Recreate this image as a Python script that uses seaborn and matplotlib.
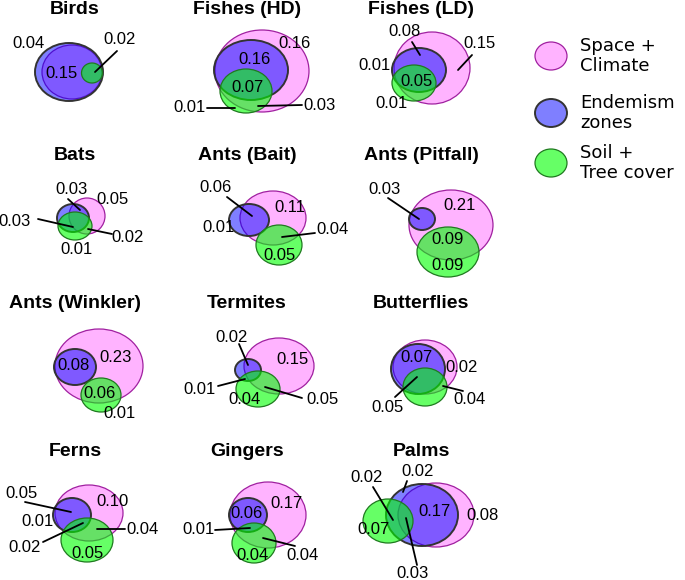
import matplotlib
matplotlib.use("Agg")
import matplotlib.pyplot as plt
from matplotlib.patches import Ellipse
import seaborn as sns

sns.set_theme(style="white")

# panel titles (row by row)
titles = ["Birds", "Fishes (HD)", "Fishes (LD)",
          "Bats", "Ants (Bait)", "Ants (Pitfall)",
          "Ants (Winkler)", "Termites", "Butterflies",
          "Ferns", "Gingers", "Palms"]

# variance fractions printed in each panel
birds = [0.04, 0.15, 0.02]
fishes_hd = [0.16, 0.16, 0.07, 0.01, 0.03]
fishes_ld = [0.08, 0.15, 0.01, 0.05, 0.01]
bats = [0.03, 0.05, 0.03, 0.02, 0.01]
ants_bait = [0.06, 0.11, 0.01, 0.04, 0.05]
ants_pitfall = [0.03, 0.21, 0.09, 0.09]
ants_winkler = [0.08, 0.23, 0.06, 0.01]
termites = [0.02, 0.15, 0.01, 0.04, 0.05]
butterflies = [0.07, 0.02, 0.05, 0.04]
ferns = [0.05, 0.10, 0.01, 0.04, 0.02, 0.05]
gingers = [0.06, 0.17, 0.01, 0.04, 0.04]
palms = [0.02, 0.02, 0.17, 0.08, 0.07, 0.03]
fractions = [birds, fishes_hd, fishes_ld, bats, ants_bait, ants_pitfall,
             ants_winkler, termites, butterflies, ferns, gingers, palms]

legend_labels = ["Space +\nClimate", "Endemism\nzones", "Soil +\nTree cover"]

# ---- layout (pixel space) ----
title_x = [75, 247, 421]
title_y = [9, 156, 303, 451]

# ellipses per panel: space+climate, endemism, soil+tree  -> (cx, cy, half-w, half-h)
ellipses = [
    [(72, 72, 30, 27), (69, 72, 34, 29), (92, 73, 10.5, 10)],
    [(262, 71, 47, 41), (251, 70, 37, 30), (246, 91, 26, 22)],
    [(432, 68, 38, 36), (419, 70, 27, 22), (414, 83, 22, 18)],
    [(87, 216, 18, 18), (73, 218, 16, 14), (75, 226, 17, 14)],
    [(273, 218, 33, 27), (249, 220, 20, 16), (279, 245, 23, 20)],
    [(451, 225, 42, 35), (422, 219, 13, 11), (448, 252, 31, 25)],
    [(99, 366, 44, 37), (75, 367, 21, 18), (101, 395, 20, 17)],
    [(279, 366, 35, 28), (248, 370, 13, 11), (258, 389, 22, 18)],
    [(425, 367, 32, 27), (418, 369, 27, 25), (425, 387, 22, 19)],
    [(89, 513, 34, 28), (72, 515, 19, 17), (87, 540, 26, 22)],
    [(268, 515, 38, 33), (248, 515, 19, 17), (254, 543, 22, 20)],
    [(436, 515, 38, 32), (422, 515, 36, 31), (388, 521, 25, 22)],
]

# label positions and optional leader lines, same order as the fractions
label_pos = [
    [(29, 43, None), (62, 73, None), (120, 40, (117, 51, 95, 72))],
    [(295, 43, None), (255, 59, None), (248, 88, None),
     (190, 108, (207, 108, 235, 108)), (320, 105, (302, 105, 258, 106))],
    [(405, 32, (412, 42, 420, 55)), (480, 43, (472, 55, 458, 70)),
     (375, 65, None), (417, 82, None), (392, 103, None)],
    [(72, 190, (68, 199, 80, 210)), (113, 200, None), (15, 221, (38, 219, 73, 227)),
     (128, 238, (112, 234, 88, 229)), (77, 250, None)],
    [(216, 188, (227, 197, 252, 216)), (290, 208, None), (219, 227, None),
     (333, 230, (315, 233, 282, 237)), (280, 256, None)],
    [(385, 189, (388, 198, 419, 219)), (460, 205, None), (448, 240, None), (448, 265, None)],
    [(74, 366, None), (116, 358, None), (100, 393, None), (120, 413, None)],
    [(232, 338, (239, 344, 248, 365)), (293, 360, None), (200, 389, (218, 386, 245, 379)),
     (245, 399, None), (323, 399, (302, 398, 265, 387))],
    [(417, 358, None), (462, 367, None), (388, 407, (395, 397, 417, 377)),
     (470, 399, (463, 391, 443, 386))],
    [(22, 494, (25, 502, 71, 512)), (113, 501, None), (38, 522, None),
     (143, 530, (125, 529, 97, 529)), (25, 548, (43, 542, 83, 523)), (88, 553, None)],
    [(247, 514, None), (287, 503, None), (199, 530, (215, 530, 250, 528)),
     (253, 556, None), (303, 556, (295, 546, 263, 538))],
    [(367, 478, (373, 487, 393, 520)), (418, 472, (407, 481, 403, 492)),
     (435, 511, None), (483, 516, None), (374, 530, None), (413, 574, (406, 518, 417, 565))],
]

# styles for the three predictor sets
faces = [(1.0, 0.70, 1.0, 1.0), (0.0, 0.0, 1.0, 0.5), (0.0, 1.0, 0.0, 0.6)]
edges = ["#a020a0", "#333333", "#1f7a1f"]
widths = [0.9, 1.4, 0.9]

num_font = dict(family="Liberation Sans", size=12, color="black")
title_font = dict(family="Liberation Sans", size=14, weight="bold", color="black")

fig = plt.figure(figsize=(6.85, 5.8), dpi=100)
ax = fig.add_axes([0, 0, 1, 1])
ax.set_xlim(0, 685)
ax.set_ylim(580, 0)
ax.axis("off")

for i, title in enumerate(titles):
    ax.text(title_x[i % 3], title_y[i // 3], title, ha="center", va="center", **title_font)
    for (cx, cy, hw, hh), fc, ec, lw in zip(ellipses[i], faces, edges, widths):
        ax.add_patch(Ellipse((cx, cy), 2 * hw, 2 * hh, facecolor=fc, edgecolor=ec, lw=lw))
    for val, (tx, ty, line) in zip(fractions[i], label_pos[i]):
        if line is not None:
            ax.plot([line[0], line[2]], [line[1], line[3]], color="black", lw=1.3)
        ax.text(tx, ty, f"{val:.2f}", ha="center", va="center", **num_font)

# legend
legend_y = [56, 113, 163]
for y, lab, fc, ec, lw in zip(legend_y, legend_labels, faces, edges, widths):
    ax.add_patch(Ellipse((551, y), 32, 28, facecolor=fc, edgecolor=ec, lw=lw))
    ax.text(580, y, lab, ha="left", va="center", family="DejaVu Sans", size=13,
            color="black", linespacing=1.15)

fig.savefig("out.png", dpi=100)
